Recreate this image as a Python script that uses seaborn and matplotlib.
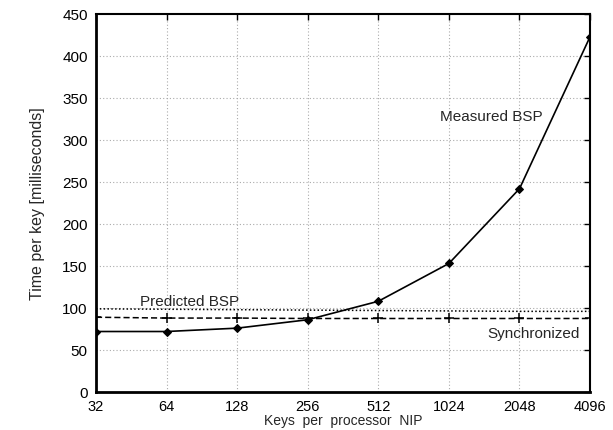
import matplotlib
matplotlib.use("Agg")
import matplotlib.pyplot as plt
import seaborn as sns
import pandas as pd
import numpy as np

keys = [32, 64, 128, 256, 512, 1024, 2048, 4096]
measured = [72, 72, 76, 86, 108, 153, 242, 423]
predicted = [99, 98.5, 98, 97.5, 97, 96.5, 96, 96]
synchronized = [89, 88, 88, 87.5, 87.5, 87.5, 87.5, 87.5]
yticks = [0, 50, 100, 150, 200, 250, 300, 350, 400, 450]

sns.set_theme(style="white")
plt.rcParams['font.family'] = ['Liberation Sans', 'DejaVu Sans']

df = pd.DataFrame({"keys": keys, "Measured BSP": measured,
                   "Predicted BSP": predicted, "Synchronized": synchronized})

fig = plt.figure(figsize=(6.13, 4.31), dpi=100)
ax = fig.add_axes([0.1566, 0.0882, 0.806, 0.877])

ax.set_xscale("log", base=2)

# grid
for x in keys[1:-1]:
    ax.axvline(x, color="#aaaaaa", lw=0.8, ls=(0, (1, 2)), zorder=0)
for y in yticks[1:-1]:
    ax.axhline(y, color="#aaaaaa", lw=0.8, ls=(0, (1, 2)), zorder=0)

sns.lineplot(data=df, x="keys", y="Predicted BSP", ax=ax, color="black",
             lw=1.1, linestyle=(0, (1, 1.5)))
sns.lineplot(data=df, x="keys", y="Synchronized", ax=ax, color="black",
             lw=1.1, linestyle=(0, (4, 2)), marker="+", markersize=7,
             markeredgewidth=1.1, markeredgecolor="black")
sns.lineplot(data=df, x="keys", y="Measured BSP", ax=ax, color="black",
             lw=1.2, marker="D", markersize=4.5, markeredgecolor="black")

ax.set_xlim(32, 4096)
ax.set_ylim(0, 450)
ax.set_xticks(keys)
ax.set_xticklabels([str(k) for k in keys])
ax.xaxis.set_minor_locator(matplotlib.ticker.NullLocator())
ax.set_yticks(yticks)
ax.tick_params(direction="in", length=4, width=1, labelsize=11,
               top=True, right=True, colors="black", pad=6)
ax.tick_params(axis="x", pad=5, labelsize=10.5)
for s in ax.spines.values():
    s.set_color("black")
    s.set_linewidth(1.5)
ax.spines["left"].set_linewidth(2)
ax.spines["bottom"].set_linewidth(2)

ax.set_xlabel("Keys  per  processor  NIP", fontsize=10, labelpad=0)
ax.set_ylabel("Time per key [milliseconds]", fontsize=11.5, labelpad=12)

ax.text(0.80, 0.73, "Measured BSP", transform=ax.transAxes, fontsize=11,
        ha="center", va="center")
ax.text(0.19, 0.24, "Predicted BSP", transform=ax.transAxes, fontsize=11,
        ha="center", va="center")
ax.text(0.885, 0.155, "Synchronized", transform=ax.transAxes, fontsize=11,
        ha="center", va="center")

fig.savefig("out.png", dpi=100)
